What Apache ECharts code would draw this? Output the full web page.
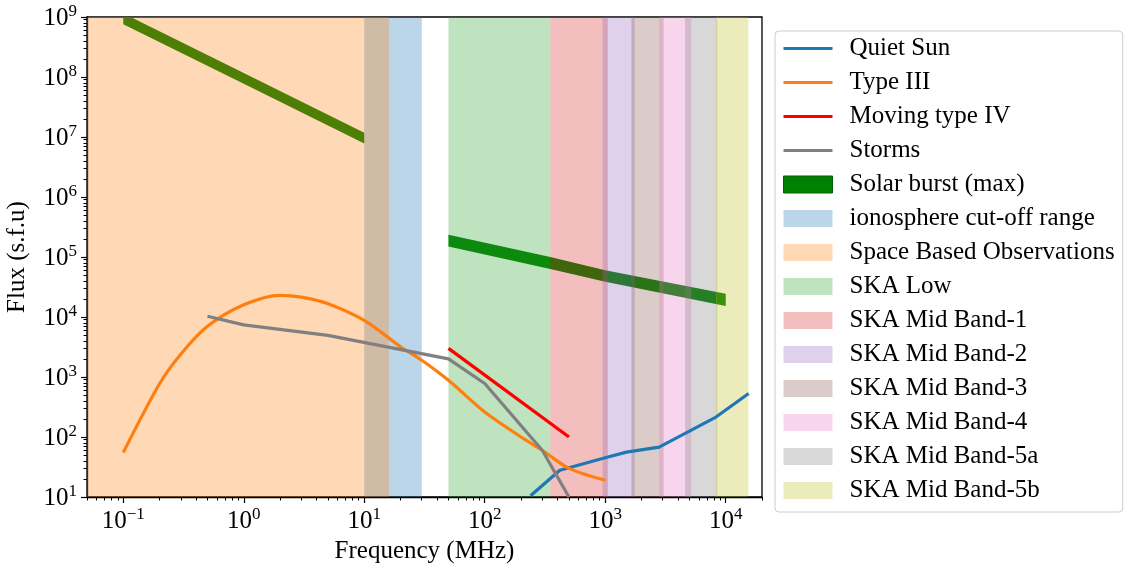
<!DOCTYPE html>
<html>
<head>
<meta charset="utf-8">
<script src="https://cdn.jsdelivr.net/npm/echarts@6/dist/echarts.min.js"></script>
<style>
html,body{margin:0;padding:0;background:#fff;}
#chart{width:1129px;height:568px;}
</style>
</head>
<body>
<div id="chart"></div>
<script>
// ---------- data ----------
const quietSunFreq = [240, 420, 1000, 1500, 2800, 8300, 15500];
const quietSunFlux = [10.5, 28, 45, 56, 68, 215, 530];

const typeIIIFreq = [0.1, 0.2, 0.3, 0.5, 1, 2, 3, 5, 10, 20, 30, 50, 100, 200, 300, 500, 1000];
const typeIIIFlux = [55, 770, 2400, 7000, 16000, 23000, 21500, 16700, 8800, 3200, 1900, 880, 261, 100, 60, 30, 19];

const movingIVFreq = [50, 500];
const movingIVFlux = [3000, 100];

const stormsFreq = [0.5, 1, 5, 50, 100, 300, 500];
const stormsFlux = [10300, 7400, 4950, 2000, 780, 60, 10];

// solar burst (max): two bands, lower and upper edge
const burst1Freq = [0.1, 1, 10];
const burst1Low  = [7.6e8, 7.7e7, 7.8e6];
const burst1High = [1.15e9, 1.17e8, 1.18e7];
const burst2Freq = [50, 350, 1000, 10000];
const burst2Low  = [1.5e5, 6.3e4, 3.85e4, 1.52e4];
const burst2High = [2.36e5, 1.0e5, 6.0e4, 2.45e4];

const bandNames = ['ionosphere cut-off range', 'Space Based Observations', 'SKA Low',
  'SKA Mid Band-1', 'SKA Mid Band-2', 'SKA Mid Band-3', 'SKA Mid Band-4',
  'SKA Mid Band-5a', 'SKA Mid Band-5b'];
const bandStart = [10, 0.05, 50, 350, 950, 1650, 2800, 4600, 8300];
const bandEnd   = [30, 16, 350, 1050, 1760, 3050, 5180, 8500, 15400];

const xTickValues = [0.1, 1, 10, 100, 1000, 10000];
const xTickExps   = ['\u22121', '0', '1', '2', '3', '4'];
const yTickValues = [10, 100, 1e3, 1e4, 1e5, 1e6, 1e7, 1e8, 1e9];
const yTickExps   = ['1', '2', '3', '4', '5', '6', '7', '8', '9'];

// ---------- styles ----------
const FONT = "'Liberation Serif', 'DejaVu Serif', serif";
const bandColors = ['rgba(31,119,180,0.3)', 'rgba(255,127,14,0.3)', 'rgba(44,160,44,0.3)',
  'rgba(214,39,40,0.3)', 'rgba(148,103,189,0.3)', 'rgba(140,86,75,0.3)',
  'rgba(227,119,194,0.3)', 'rgba(127,127,127,0.3)', 'rgba(188,189,34,0.3)'];
const xMin = 0.05, xMax = 20000, yMin = 10, yMax = 1e9;
const LINE_ICON = 'path://M0,0L50,0L50,3L0,3Z';

function minorTicks(lo, hi) {
  const out = [];
  for (let e = -3; e <= 9; e++) {
    for (let m = 2; m <= 9; m++) {
      const v = m * Math.pow(10, e);
      if (v >= lo && v <= hi) out.push(v);
    }
  }
  return out;
}

const richLabel = {
  b: { fontSize: 25, fontFamily: FONT, color: '#000', lineHeight: 28, verticalAlign: 'bottom' },
  e: { fontSize: 17, fontFamily: FONT, color: '#000', lineHeight: 17, verticalAlign: 'top' }
};

function lineSeries(name, xs, ys, color, smooth) {
  return {
    name: name, type: 'line', z: 5,
    data: xs.map((x, i) => [x, ys[i]]),
    symbol: 'none', showSymbol: false, smooth: smooth || false,
    lineStyle: { color: color, width: 3.2, cap: 'butt', join: 'round' },
    itemStyle: { color: color },
    clip: true, animation: false
  };
}

const series = [];
series.push(lineSeries('Quiet Sun', quietSunFreq, quietSunFlux, '#1f77b4'));
series.push(lineSeries('Type III', typeIIIFreq, typeIIIFlux, '#ff7f0e', 0.3));
series.push(lineSeries('Moving type IV', movingIVFreq, movingIVFlux, '#ff0000'));
series.push(lineSeries('Storms', stormsFreq, stormsFlux, '#808080'));

const burstSegs = [
  { f: burst1Freq, lo: burst1Low, hi: burst1High },
  { f: burst2Freq, lo: burst2Low, hi: burst2High }
];
series.push({
  name: 'Solar burst (max)', type: 'custom', z: 1, clip: true, animation: false,
  itemStyle: { color: '#008000' },
  data: burstSegs.map((s, i) => [s.f[0], s.lo[0], i]),
  encode: { x: 0, y: 1 },
  renderItem: function (params, api) {
    const seg = burstSegs[params.dataIndex];
    const pts = [];
    for (let i = 0; i < seg.f.length; i++) pts.push(api.coord([seg.f[i], seg.lo[i]]));
    for (let i = seg.f.length - 1; i >= 0; i--) pts.push(api.coord([seg.f[i], seg.hi[i]]));
    return { type: 'polygon', shape: { points: pts }, style: { fill: '#008000' } };
  }
});

bandNames.forEach((name, bi) => {
  series.push({
    name: name, type: 'custom', z: 2, clip: true, animation: false,
    itemStyle: { color: bandColors[bi] },
    data: [[bandStart[bi], bandEnd[bi], yMin, yMax]],
    encode: { x: [0, 1], y: [2, 3] },
    renderItem: function (params, api) {
      const p0 = api.coord([bandStart[bi], yMax]);
      const p1 = api.coord([bandEnd[bi], yMin]);
      return {
        type: 'rect',
        shape: { x: p0[0], y: p0[1], width: p1[0] - p0[0], height: p1[1] - p0[1] },
        style: { fill: bandColors[bi] }
      };
    }
  });
});

const legendData = [
  { name: 'Quiet Sun', icon: LINE_ICON, itemStyle: { color: '#1f77b4', borderWidth: 0 } },
  { name: 'Type III', icon: LINE_ICON, itemStyle: { color: '#ff7f0e', borderWidth: 0 } },
  { name: 'Moving type IV', icon: LINE_ICON, itemStyle: { color: '#ff0000', borderWidth: 0 } },
  { name: 'Storms', icon: LINE_ICON, itemStyle: { color: '#808080', borderWidth: 0 } },
  { name: 'Solar burst (max)', icon: 'rect', itemStyle: { color: '#008000', borderColor: '#006000', borderWidth: 1 } }
].concat(bandNames.map((n, i) => ({ name: n, icon: 'rect', itemStyle: { color: bandColors[i], borderWidth: 0 } })));

const option = {
  animation: false,
  backgroundColor: '#ffffff',
  grid: { left: 87, top: 17, width: 675, height: 480, show: true, borderColor: '#000', borderWidth: 1.3,
    backgroundColor: 'transparent', containLabel: false, outerBoundsMode: 'none' },
  legend: {
    orient: 'vertical', left: 775, top: 31,
    itemWidth: 49, itemHeight: 17, itemGap: 9,
    padding: [5, 8, 9, 8],
    backgroundColor: 'rgba(255,255,255,0.8)', borderColor: '#cccccc', borderWidth: 1, borderRadius: 4,
    selectedMode: false,
    textStyle: { fontFamily: FONT, fontSize: 25, color: '#000', lineHeight: 25, padding: [0, 0, 0, 12] },
    data: legendData
  },
  xAxis: [{
    type: 'log', logBase: 10, min: xMin, max: xMax,
    name: 'Frequency (MHz)', nameLocation: 'middle', nameGap: 40,
    nameTextStyle: { fontFamily: FONT, fontSize: 25, color: '#000' },
    axisLine: { show: true, lineStyle: { color: '#000', width: 1.3 } },
    axisTick: { show: true, length: 6, lineStyle: { color: '#000', width: 1.2 }, customValues: xTickValues },
    axisLabel: {
      show: true, margin: 9, customValues: xTickValues,
      formatter: function (v) {
        const i = xTickValues.findIndex(t => Math.abs(Math.log10(t) - Math.log10(v)) < 1e-6);
        return i < 0 ? '' : '{b|10}{e|' + xTickExps[i] + '}';
      },
      rich: richLabel
    },
    splitLine: { show: false }, minorTick: { show: false }
  }, {
    type: 'log', logBase: 10, min: xMin, max: xMax, position: 'bottom',
    axisLine: { show: false },
    axisTick: { show: true, length: 3.5, lineStyle: { color: '#000', width: 1 }, customValues: minorTicks(xMin, xMax) },
    axisLabel: { show: false }, splitLine: { show: false }
  }],
  yAxis: [{
    type: 'log', logBase: 10, min: yMin, max: yMax,
    name: 'Flux (s.f.u)', nameLocation: 'middle', nameGap: 57, nameRotate: 90,
    nameTextStyle: { fontFamily: FONT, fontSize: 25, color: '#000' },
    axisLine: { show: true, lineStyle: { color: '#000', width: 1.3 } },
    axisTick: { show: true, length: 6, lineStyle: { color: '#000', width: 1.2 }, customValues: yTickValues },
    axisLabel: {
      show: true, margin: 10, customValues: yTickValues,
      formatter: function (v) {
        const i = yTickValues.findIndex(t => Math.abs(Math.log10(t) - Math.log10(v)) < 1e-6);
        return i < 0 ? '' : '{b|10}{e|' + yTickExps[i] + '}';
      },
      rich: richLabel
    },
    splitLine: { show: false }
  }, {
    type: 'log', logBase: 10, min: yMin, max: yMax, position: 'left',
    axisLine: { show: false },
    axisTick: { show: true, length: 3.5, lineStyle: { color: '#000', width: 1 }, customValues: minorTicks(yMin, yMax) },
    axisLabel: { show: false }, splitLine: { show: false }
  }],
  series: series
};

const chart = echarts.init(document.getElementById('chart'), null, { renderer: 'canvas' });
chart.setOption(option);
</script>
</body>
</html>
